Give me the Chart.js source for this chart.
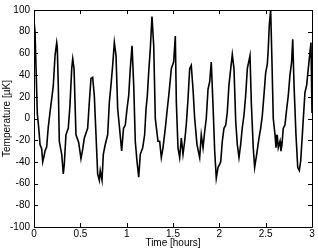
<!DOCTYPE html>
<html>
<head>
<meta charset="utf-8">
<script src="https://cdn.jsdelivr.net/npm/chart.js@4.4.1/dist/chart.umd.min.js"></script>
<style>
    html, body { margin: 0; padding: 0; background: #fff; }
    #wrap { width: 318px; height: 249px; }
</style>
</head>
<body>
<div id="wrap"><canvas id="chart"></canvas></div>
<script>
// time in hours, temperature in µK
const times = [
    0, 0.011, 0.036, 0.047, 0.057, 0.065, 0.083, 0.094, 0.105, 0.119, 0.137, 0.148, 0.154, 0.173, 0.191, 0.208, 0.227, 0.245, 0.251, 0.262,
    0.273, 0.299, 0.316, 0.327, 0.345, 0.370, 0.388, 0.407, 0.418, 0.432, 0.453, 0.482, 0.507, 0.526, 0.543, 0.579, 0.597, 0.615, 0.633, 0.651,
    0.669, 0.687, 0.705, 0.715, 0.734, 0.748, 0.769, 0.795, 0.813, 0.831, 0.849, 0.867, 0.885, 0.903, 0.920, 0.946, 0.966, 0.985, 1.004, 1.022,
    1.039, 1.058, 1.076, 1.093, 1.111, 1.130, 1.147, 1.173, 1.194, 1.209, 1.223, 1.238, 1.255, 1.273, 1.292, 1.309, 1.338, 1.356, 1.374, 1.392,
    1.417, 1.435, 1.454, 1.482, 1.507, 1.525, 1.536, 1.554, 1.572, 1.590, 1.608, 1.626, 1.643, 1.662, 1.680, 1.697, 1.716, 1.734, 1.759, 1.788,
    1.805, 1.824, 1.842, 1.859, 1.878, 1.896, 1.913, 1.932, 1.950, 1.967, 1.986, 2.004, 2.015, 2.032, 2.050, 2.069, 2.086, 2.104, 2.123, 2.140,
    2.158, 2.177, 2.194, 2.212, 2.230, 2.247, 2.266, 2.284, 2.302, 2.331, 2.345, 2.366, 2.381, 2.403, 2.428, 2.446, 2.464, 2.482, 2.500, 2.518,
    2.528, 2.539, 2.554, 2.568, 2.582, 2.601, 2.611, 2.625, 2.636, 2.655, 2.665, 2.676, 2.690, 2.708, 2.727, 2.744, 2.762, 2.780, 2.792, 2.806,
    2.827, 2.846, 2.863, 2.878, 2.900, 2.924, 2.943, 2.960, 2.978, 2.989, 3.0
];
const temps = [
    90, 80, 4, -5, -15, -24, -28, -40, -36, -30, -26, -14, -8, 6, 18, 30, 58, 70, 66, 31,
    -21, -33, -51, -42, -15, -9, 12, 46, 55, 46, -15, -22, -37, -28, -18, -9, 15, 37, 38, 21,
    -15, -51, -57, -48, -57, -33, -24, -15, 15, 31, 49, 70, 58, 9, -6, -30, -9, -6, 9, 21,
    46, 67, 31, -21, -39, -54, -33, -27, -15, 9, 21, 43, 64, 94, 67, 0, -21, -21, -36, -27,
    -9, 6, 21, 46, 52, 76, 15, -27, -36, -18, -33, -21, -6, 18, 46, 49, 27, 0, -24, -36,
    -15, -27, -12, 0, 27, 34, 52, 12, -30, -55, -45, -42, -40, -21, -9, -6, 6, 31, 46, 59,
    46, -3, -24, -36, -24, -9, 3, 21, 46, 58, 15, -27, -45, -33, -18, -9, 3, 22, 42, 50,
    64, 86, 100, 52, 0, -15, -27, -15, -27, -21, -30, -24, -9, -6, 9, 21, 40, 52, 73, 31,
    -15, -45, -48, -39, -9, 24, 31, 46, 61, 70, 5
];
const xTicks = [0, 0.5, 1, 1.5, 2, 2.5, 3];
const yTicks = [-100, -80, -60, -40, -20, 0, 20, 40, 60, 80, 100];

const tickFont = { family: 'Liberation Sans, Arial, sans-serif', size: 10 };

// MATLAB style box with inward ticks on all four sides
const boxPlugin = {
    id: 'box',
    afterDraw(chart) {
        const ctx = chart.ctx;
        const a = chart.chartArea;
        const xs = chart.scales.x;
        const ys = chart.scales.y;
        const len = 4;
        ctx.save();
        ctx.strokeStyle = '#000';
        ctx.lineWidth = 1;
        ctx.beginPath();
        ctx.rect(Math.round(a.left) + 0.5, Math.round(a.top) + 0.5, Math.round(a.right - a.left), Math.round(a.bottom - a.top));
        xTicks.forEach(v => {
            const px = Math.round(xs.getPixelForValue(v)) + 0.5;
            ctx.moveTo(px, a.bottom);
            ctx.lineTo(px, a.bottom - len);
            ctx.moveTo(px, a.top);
            ctx.lineTo(px, a.top + len);
        });
        yTicks.forEach(v => {
            const py = Math.round(ys.getPixelForValue(v)) + 0.5;
            ctx.moveTo(a.left, py);
            ctx.lineTo(a.left + len, py);
            ctx.moveTo(a.right, py);
            ctx.lineTo(a.right - len, py);
        });
        ctx.stroke();
        ctx.restore();
    }
};

const ctx = document.getElementById('chart').getContext('2d');
new Chart(ctx, {
    type: 'line',
    data: {
        datasets: [{
            data: times.map((t, i) => ({ x: t, y: temps[i] })),
            borderColor: '#000',
            borderWidth: 1.6,
            pointRadius: 0,
            tension: 0,
            fill: false
        }]
    },
    options: {
        responsive: true,
        maintainAspectRatio: false,
        animation: false,
        layout: { padding: { top: 7, right: 6, left: 0, bottom: 0 } },
        plugins: { legend: { display: false }, tooltip: { enabled: false } },
        scales: {
            x: {
                type: 'linear',
                min: 0,
                max: 3,
                afterBuildTicks: scale => { scale.ticks = xTicks.map(v => ({ value: v })); },
                afterFit: scale => { scale.height = 22; },
                grid: { display: false, drawTicks: false },
                border: { display: false },
                ticks: { color: '#000', font: tickFont, padding: 1, maxRotation: 0, callback: v => String(v) },
                title: { display: true, text: 'Time [hours]', color: '#000', font: tickFont, padding: { top: 0, bottom: 0 } }
            },
            y: {
                min: -100,
                max: 100,
                afterBuildTicks: scale => { scale.ticks = yTicks.map(v => ({ value: v })); },
                afterFit: scale => { scale.width = 34; },
                grid: { display: false, drawTicks: false },
                border: { display: false },
                ticks: { color: '#000', font: tickFont, padding: 4, callback: v => String(v) },
                title: { display: true, text: 'Temperature [µK]', color: '#000', font: tickFont, padding: 1 }
            }
        }
    },
    plugins: [boxPlugin]
});
</script>
</body>
</html>
